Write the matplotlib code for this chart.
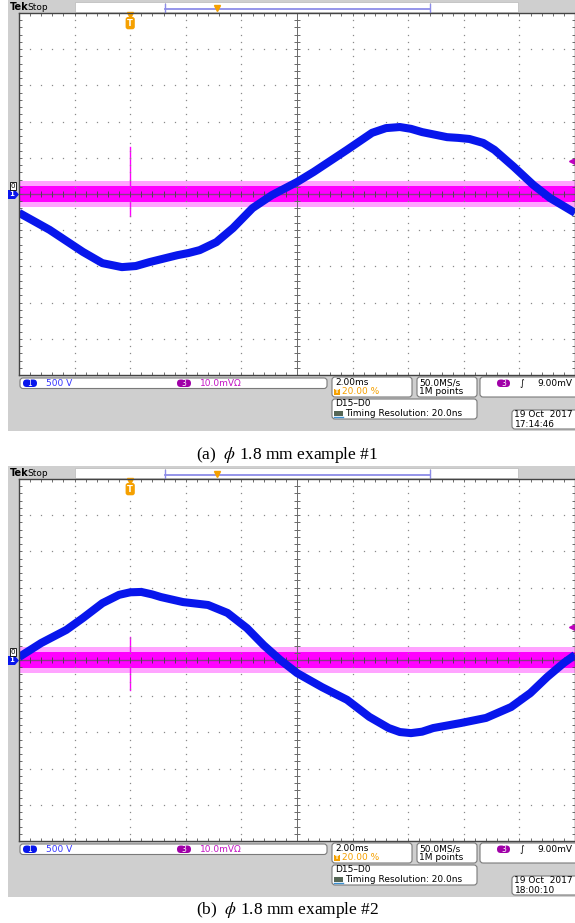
import numpy as np
import matplotlib
matplotlib.use("Agg")
import matplotlib.pyplot as plt
from matplotlib.patches import Rectangle, FancyBboxPatch, Polygon
from matplotlib.ticker import MultipleLocator

plt.rcParams['font.family'] = ['DejaVu Sans']
plt.rcParams['mathtext.fontset'] = 'stix'

W, H = 575, 923

# scope settings (from the readout boxes)
time_div = 2.0      # ms/div
ch1_div = 500.0     # V/div
ch3_div = 10.0      # mV/div
trig_pct = 20.0     # trigger position, % of record
trig_level = 9.0    # mV

# (a) channel 1 trace
t_a = [-4.0, -2.9, -1.7, -1.0, -0.3, 0.2, 0.7, 1.7, 2.1, 2.5, 3.1, 3.7, 4.4, 5.1, 6.0,
       6.6, 7.8, 8.7, 9.2, 9.7, 10.1, 10.5, 11.4, 11.8, 12.2, 12.7, 13.1, 13.8, 14.5,
       15.1, 16.0]
v_a = [-260, -495, -800, -955, -1010, -995, -940, -845, -815, -775, -665, -470, -195,
       -15, 165, 305, 610, 845, 910, 925, 900, 855, 785, 775, 760, 705, 610, 375, 125,
       -55, -260]

# (b) channel 1 trace
t_b = [-4.0, -3.2, -2.3, -1.7, -1.0, -0.4, 0.0, 0.4, 0.8, 1.1, 1.9, 2.8, 3.5, 4.2,
       4.8, 5.4, 6.0, 6.9, 7.8, 8.6, 9.3, 9.7, 10.1, 10.5, 10.9, 11.9, 12.8, 13.7,
       14.4, 15.0, 15.6, 16.0]
v_b = [40, 235, 415, 580, 785, 900, 935, 940, 905, 870, 800, 760, 650, 440,
       205, 0, -180, -375, -550, -785, -940, -995, -1010, -990, -940, -870, -800,
       -650, -455, -235, -40, 70]

# channel 3 noise band (mV): dense core and spiky fringe
core_mv = 2.3
fringe_mv = 3.6
# spike at the trigger point (mV, top / bottom)
spike_a = [13.0, -6.0]
spike_b = [6.4, -8.3]

stamps = ["19 Oct  2017\n17:14:46", "19 Oct  2017\n18:00:10"]
captions = [r"(a)  $\phi$ 1.8 mm example #1", r"(b)  $\phi$ 1.8 mm example #2"]

GRAY = '#cfcfcf'
BLUE = '#0816ec'
MAG = '#ff00ff'
ORANGE = '#f5a000'
FS = 6.5

fig = plt.figure(figsize=(W / 100, H / 100), dpi=100)
bg = fig.add_axes([0, 0, 1, 1])
bg.set_xlim(0, W)
bg.set_ylim(H, 0)
bg.axis('off')


def px_rect(x0, y0, x1, y1):
    return [x0 / W, 1 - y1 / H, (x1 - x0) / W, (y1 - y0) / H]


def box(x, y, w, h, fc='white', ec='#7a7a7a', r=3, lw=0.8):
    bg.add_patch(FancyBboxPatch((x, y), w, h,
                                boxstyle=f'round,pad=0,rounding_size={r}',
                                fc=fc, ec=ec, lw=lw))


def draw_panel(oy, t, v, spike, stamp, caption, cap_y):
    # frame
    bg.add_patch(Rectangle((8, oy), W - 8, 431, fc=GRAY, ec='none'))

    # top status bar
    bg.text(10, oy + 7, 'Tek', fontsize=7, fontweight='bold', va='center')
    bg.text(27, oy + 7, 'Stop', fontsize=FS, va='center')
    bg.add_patch(Rectangle((75, oy + 2), 90, 10, fc='white', ec='#c0c0c0', lw=0.6))
    bg.add_patch(Rectangle((165, oy + 2), 265, 10, fc='white', ec='#c0c0c0', lw=0.6))
    bg.add_patch(Rectangle((430, oy + 2), 88, 10, fc='white', ec='#c0c0c0', lw=0.6))
    bg.plot([165, 430], [oy + 8.5, oy + 8.5], color='#8c8ce8', lw=1.3)
    bg.plot([165, 165], [oy + 4, oy + 12], color='#8c8ce8', lw=1)
    bg.plot([430, 430], [oy + 4, oy + 12], color='#8c8ce8', lw=1)
    bg.plot([217], [oy + 8], marker='v', ms=4.5, color=ORANGE)

    # channel markers on the left
    bg.text(13, oy + 186, '0', fontsize=5, ha='center', va='center',
            bbox=dict(boxstyle='square,pad=0.1', fc='white', ec='black', lw=0.6))
    bg.add_patch(Polygon([[8, oy + 190], [15, oy + 190], [19, oy + 194.5],
                          [15, oy + 199], [8, oy + 199]], fc=BLUE, ec='none'))
    bg.text(12, oy + 194.5, '1', fontsize=5, color='white', ha='center', va='center',
            fontweight='bold')

    # screen: ax holds channel 1 + graticule, ax3 (behind) holds channel 3
    t0 = -trig_pct / 100 * 10 * time_div
    t1 = t0 + 10 * time_div
    ax = fig.add_axes(px_rect(19, oy + 13, W, oy + 375))
    ax3 = ax.twinx()
    ax.set_zorder(ax3.get_zorder() + 1)
    ax.patch.set_visible(False)
    ax3.patch.set_visible(True)
    ax3.patch.set_facecolor('white')
    ax3.set_ylim(-5 * ch3_div, 5 * ch3_div)
    ax.set_ylim(-5 * ch1_div, 5 * ch1_div)
    ax3.set_yticks([])
    for s in ax3.spines.values():
        s.set_visible(False)

    ax.xaxis.set_major_locator(MultipleLocator(time_div / 5))
    ax.yaxis.set_major_locator(MultipleLocator(ch1_div / 5))
    ax.tick_params(which='both', direction='in', length=2.5, width=0.6,
                   color='#555555', top=True, bottom=True, left=True, right=True,
                   labelbottom=False, labelleft=False, labelright=False,
                   labeltop=False)
    for s in ax.spines.values():
        s.set_color('#444444')
        s.set_linewidth(1.0)

    # channel 3 noise band
    ax3.fill_between([t0, t1], -fringe_mv, fringe_mv, color='#ffa4ff', lw=0)
    ax3.fill_between([t0, t1], -core_mv, core_mv, color=MAG, lw=0)
    ax3.plot([0, 0], spike, color=MAG, lw=1)
    ax3.axhline(0, color='#9a209a', lw=1)

    # dotted graticule
    tx = np.arange(t0, t1 + 1e-6, time_div / 5)
    vy = np.arange(-5 * ch1_div, 5 * ch1_div + 1e-6, ch1_div / 5)
    for k in range(1, 10):
        tk = t0 + k * time_div
        if k != 5:
            ax.plot(np.full_like(vy, tk), vy, ls='none', marker='s', ms=0.9,
                    mew=0, color='#8a8a8a')
    for k in range(-4, 5):
        if k != 0:
            ax.plot(tx, np.full_like(tx, k * ch1_div), ls='none', marker='s',
                    ms=0.9, mew=0, color='#8a8a8a')
    tc = t0 + 5 * time_div
    ax.axvline(tc, color='#6a6a6a', lw=0.7)
    ax.axhline(0, color='#6a6a6a', lw=0.5, alpha=0.6)
    ax.plot(tx, np.zeros_like(tx), ls='none', marker='|', ms=4, mew=0.7,
            color='#5a3a5a')
    ax.plot(np.full_like(vy, tc), vy, ls='none', marker='_', ms=4, mew=0.7,
            color='#6a6a6a')

    # channel 1 trace
    ax.plot(t, v, color=BLUE, lw=5.8, solid_joinstyle='round',
            solid_capstyle='butt')
    ax.set_xlim(t0, t1)

    # trigger markers
    ax.text(0, 0.972, 'T', transform=ax.get_xaxis_transform(), ha='center',
            va='center', fontsize=6, color='white', fontweight='bold',
            bbox=dict(boxstyle='round,pad=0.2,rounding_size=0.3', fc=ORANGE, ec='none'))
    ax.plot([0], [0.995], marker='v', ms=4.5, color=ORANGE,
            transform=ax.get_xaxis_transform(), clip_on=False)
    ax3.plot([t1 - 0.12], [trig_level], marker='<', ms=4, color='#c000c0',
             clip_on=False)

    # readout strip
    box(20, oy + 378, 307, 10.5)
    box(23, oy + 379.5, 14, 7.5, fc=BLUE, ec='none', r=3.7)
    bg.text(30, oy + 383.3, '1', fontsize=5.5, color='white', ha='center', va='center')
    bg.text(46, oy + 383.3, '500 V', fontsize=FS, color='#3434ff', va='center')
    box(177, oy + 379.5, 14, 7.5, fc='#a000a8', ec='none', r=3.7)
    bg.text(184, oy + 383.3, '3', fontsize=5.5, color='white', ha='center', va='center')
    bg.text(200, oy + 383.3, '10.0mV\u03a9', fontsize=FS, color='#c414c4', va='center')

    box(332, oy + 377, 80, 20)
    bg.text(335, oy + 382.5, '2.00ms', fontsize=FS, va='center')
    bg.add_patch(Rectangle((334, oy + 388.5), 5.5, 6.5, fc=ORANGE, ec='none'))
    bg.text(336.8, oy + 391.8, 'T', fontsize=4.2, color='white', ha='center', va='center',
            fontweight='bold')
    bg.text(342, oy + 392, '20.00 %', fontsize=FS, color=ORANGE, va='center')

    box(417, oy + 377, 60, 20)
    bg.text(419, oy + 382.5, '50.0MS/s', fontsize=FS, va='center')
    bg.text(419, oy + 392, '1M points', fontsize=FS, va='center')

    box(480, oy + 377, 100, 20)
    box(497, oy + 379.5, 13, 7.5, fc='#a000a8', ec='none', r=3.7)
    bg.text(503.5, oy + 383.3, '3', fontsize=5.5, color='white', ha='center', va='center')
    bg.text(519, oy + 383.3, '\u222b', fontsize=FS, va='center')
    bg.text(572, oy + 383.3, '9.00mV', fontsize=FS, va='center', ha='right')

    box(332, oy + 399, 145, 20)
    bg.text(335, oy + 404, 'D15\u2013D0', fontsize=FS, va='center')
    bg.add_patch(Rectangle((334, oy + 411), 9, 5, fc='#556655', ec='none'))
    bg.plot([334, 343], [oy + 416.5, oy + 416.5], color='#3a8fd0', lw=1)
    bg.text(345, oy + 413.8, 'Timing Resolution: 20.0ns', fontsize=FS, va='center')

    box(512, oy + 410, 66, 19)
    bg.text(514.5, oy + 419.5, stamp, fontsize=FS, va='center', linespacing=1.05)

    # caption
    bg.text(W / 2, cap_y, caption, fontsize=12.5, family='Liberation Serif',
            ha='center', va='center')


draw_panel(0, t_a, v_a, spike_a, stamps[0], captions[0], 455)
draw_panel(466, t_b, v_b, spike_b, stamps[1], captions[1], 910)

fig.savefig('out.png', dpi=100)
